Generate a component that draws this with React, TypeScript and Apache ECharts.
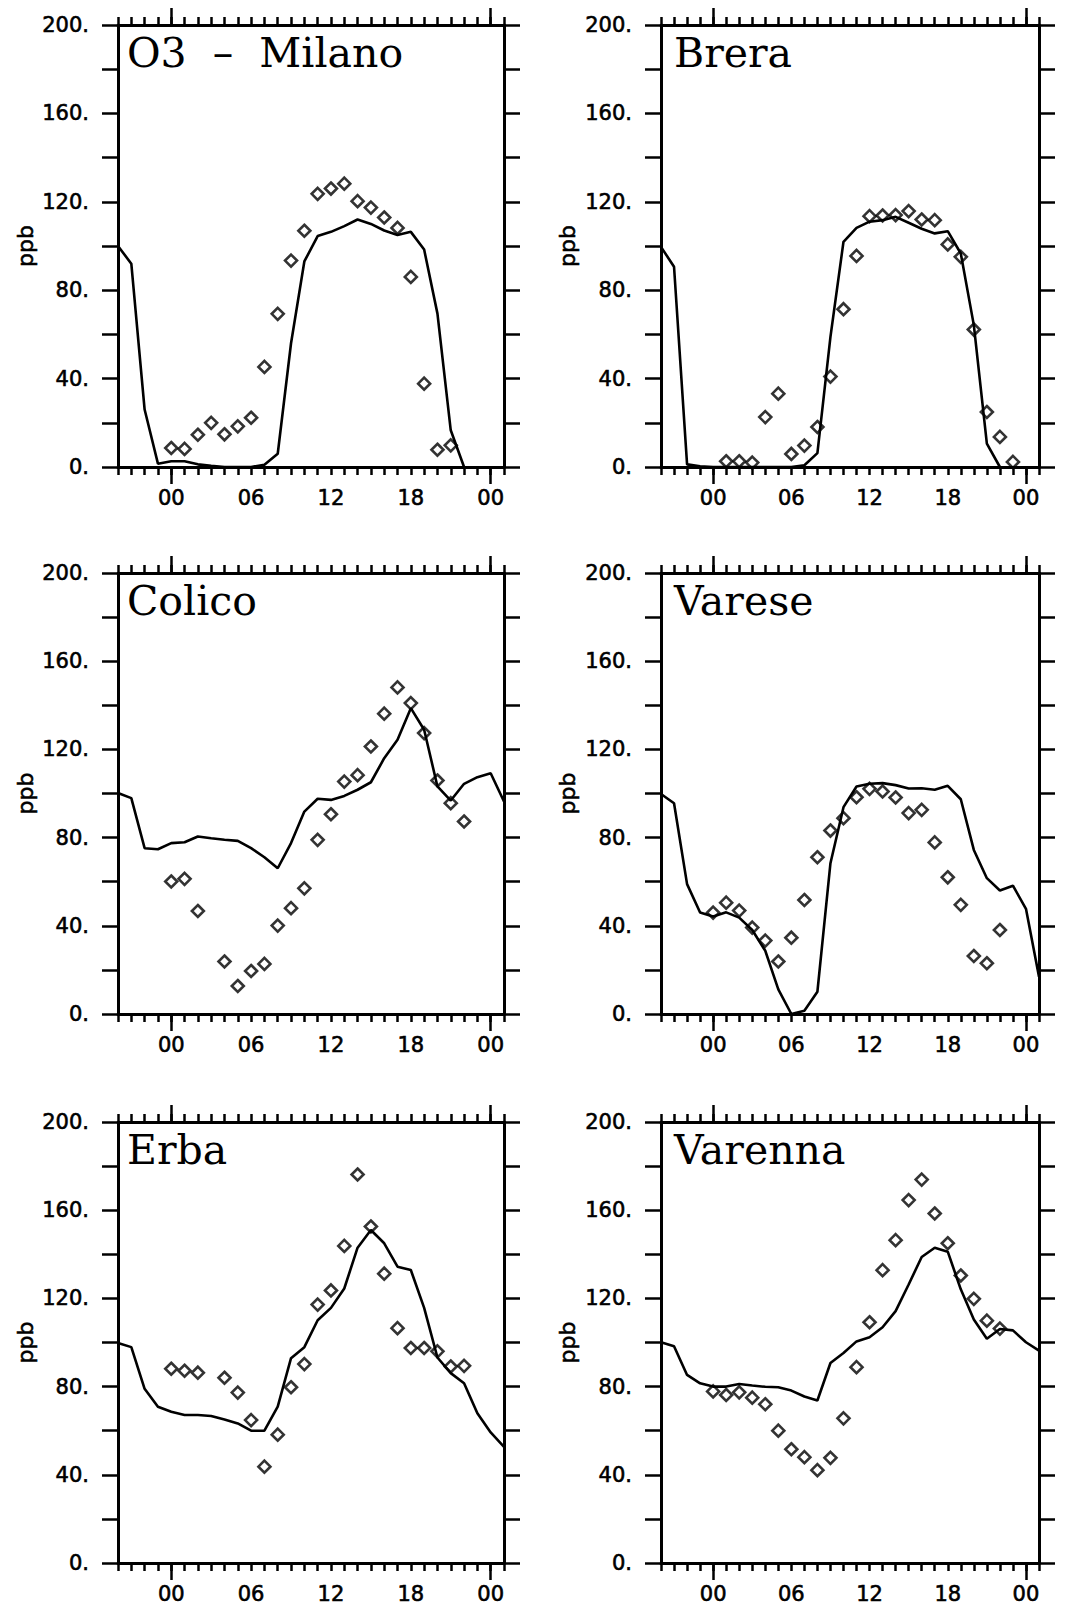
import { useEffect, useRef } from "react";
import * as echarts from "echarts";

// ---- data ----
const MODEL_START_HOUR = -4; // model values are hourly starting at -4
const OBS_START_HOUR = 0; // observations are hourly starting at 00

const titles = ["O3\u00a0\u00a0–\u00a0\u00a0Milano", "Brera", "Colico", "Varese", "Erba", "Varenna"];

const milanoModel = [100, 92, 26, 1.5, 2.6, 2.6, 1.2, 0.5, 0, 0, 0, 1, 6, 56, 93, 104.5, 106.4, 109, 112, 110, 107, 105, 106.4, 98.4, 69.4, 16.6, 0];
const milanoObs = [8.6, 8.2, 14.6, 20, 14.8, 18.4, 22.3, 45.3, 69.3, 93.4, 106.9, 123.6, 126, 128.2, 120.3, 117.4, 112.9, 108.2, 86, 37.7, 7.8, 9.8];

const breraModel = [99.6, 90.6, 1.2, 0.3, 0, 0, 0, 0, 0, 0, 0, 0.8, 6.3, 58.9, 101.9, 108.2, 111, 111.7, 113.2, 110.5, 107.8, 105.7, 106.7, 96.6, 64.2, 10.6, 0];
const breraObs = [null, 2.6, 2.6, 2, 22.6, 33.2, 5.9, 9.7, 18.1, 40.9, 71.4, 95.5, 113.5, 113.8, 114, 115.8, 112, 111.7, 100.7, 95.1, 62.2, 24.9, 13.6, 2.3];

const colicoModel = [100.2, 97.9, 75.2, 74.7, 77.5, 77.9, 80.5, 79.7, 79, 78.5, 75.2, 71.1, 66.1, 77.5, 91.8, 97.6, 97.1, 98.9, 101.7, 105.1, 116, 124.4, 138.7, 128.9, 103.2, 96.8, 104.4, 107.4, 109.2, 96.4];
const colicoObs = [60.1, 61.3, 46.7, null, 23.8, 12.7, 19.5, 22.7, 40.1, 48, 57, 79, 90.6, 105.4, 108.3, 121.3, 136.2, 148.1, 141, 127.4, 105.9, 95.6, 87.3];

const vareseModel = [99.8, 95.6, 58.9, 46, 44.2, 46.1, 43.7, 38.1, 28.7, 11.2, 0, 1.5, 10.1, 68.4, 93.8, 103.2, 104.4, 104.7, 103.8, 102.3, 102.4, 101.7, 103.5, 97.4, 74.4, 61.6, 56, 58.2, 47.7, 16.9];
const vareseObs = [46, 50.5, 46.9, 39.2, 33.3, 23.8, 34.6, 51.7, 71.1, 83.2, 88.8, 98.3, 102.1, 100.9, 98.2, 91.1, 92.6, 77.8, 62, 49.5, 26.3, 23, 38.1];

const erbaModel = [99.8, 97.9, 79, 70.9, 68.6, 67.1, 67.1, 66.7, 65.1, 63.3, 60, 60, 70.9, 92.9, 97.9, 110.1, 115.7, 124.5, 143, 151, 145, 134.4, 132.9, 115.7, 93.2, 86.1, 81.5, 67.9, 59.2, 52.7];
const erbaObs = [88.1, 87.2, 86.3, null, 84, 77.3, 64.8, 43.7, 58.2, 79.7, 90.2, 117.2, 123.6, 143.8, 176.2, 152.6, 131.2, 106.5, 97.5, 97.5, 96, 89.1, 89.4];

const varennaModel = [100.1, 98.3, 85.3, 81.5, 80, 80, 81.2, 80.5, 79.9, 79.7, 78.2, 75.5, 73.7, 90.7, 95.2, 100.5, 102.4, 106.9, 114.2, 126.3, 138.8, 143, 141.2, 124.1, 110.4, 101.7, 106.1, 105.5, 100.1, 96.3];
const varennaObs = [77.8, 76.2, 77.4, 75, 72, 60, 51.6, 48, 42.1, 47.7, 65.6, 88.8, 109.2, 132.8, 146.4, 164.6, 173.9, 158.5, 145, 130.4, 119.8, 109.9, 106.3];

const modelSeries = [milanoModel, breraModel, colicoModel, vareseModel, erbaModel, varennaModel];
const obsSeries = [milanoObs, breraObs, colicoObs, vareseObs, erbaObs, varennaObs];

const X_MIN = -4;
const X_MAX = 25;
const hourTicks = [-4, -3, -2, -1, 0, 1, 2, 3, 4, 5, 6, 7, 8, 9, 10, 11, 12, 13, 14, 15, 16, 17, 18, 19, 20, 21, 22, 23, 24, 25];
const dayTicks = [0, 24];
const xLabelHours = [0, 6, 12, 18, 24];
const xLabelTexts = ["00", "06", "12", "18", "00"];
const yLabelValues = [0, 40, 80, 120, 160, 200];
const yName = "ppb";

// ---- layout ----
const cols = [
  { left: 118, width: 386, nameX: 25, titleDx: 9 },
  { left: 661, width: 378, nameX: 567, titleDx: 13 },
];
const rows = [
  { top: 25, height: 442 },
  { top: 573, height: 441 },
  { top: 1122, height: 441 },
];

const BLACK = "#000";
const LABEL_FONT = "DejaVu Sans";
const labelText = {
  color: BLACK,
  fontFamily: LABEL_FONT,
  fontSize: 21,
  textBorderColor: BLACK,
  textBorderWidth: 0.6,
};

function buildOption() {
  const grid: any[] = [];
  const xAxis: any[] = [];
  const yAxis: any[] = [];
  const series: any[] = [];
  const graphic: any[] = [];

  titles.forEach((title, i) => {
    const col = cols[i % 2];
    const row = rows[Math.floor(i / 2)];
    grid.push({ left: col.left, top: row.top, width: col.width, height: row.height, containLabel: false });

    const axisLine = { show: true, onZero: false, lineStyle: { color: BLACK, width: 3 } };
    const noLine = { show: false, onZero: false };
    const tickStyle = { color: BLACK, width: 2.5 };
    const xBase = { gridIndex: i, type: "value", min: X_MIN, max: X_MAX, splitLine: { show: false } };

    // bottom hourly
    xAxis.push({
      ...xBase,
      position: "bottom",
      axisLine,
      axisTick: { show: true, inside: false, customValues: hourTicks, length: 8, lineStyle: tickStyle },
      axisLabel: {
        show: true,
        customValues: xLabelHours,
        formatter: (v: number) => xLabelTexts[xLabelHours.indexOf(v)] ?? "",
        ...labelText,
        margin: 20,
      },
    });
    // bottom day ticks
    xAxis.push({
      ...xBase,
      position: "bottom",
      axisLine: noLine,
      axisTick: { show: true, inside: false, customValues: dayTicks, length: 17, lineStyle: tickStyle },
      axisLabel: { show: false },
    });
    // top hourly
    xAxis.push({
      ...xBase,
      position: "top",
      axisLine,
      axisTick: { show: true, inside: false, customValues: hourTicks, length: 8, lineStyle: tickStyle },
      axisLabel: { show: false },
    });
    // top day ticks
    xAxis.push({
      ...xBase,
      position: "top",
      axisLine: noLine,
      axisTick: { show: true, inside: false, customValues: dayTicks, length: 17, lineStyle: tickStyle },
      axisLabel: { show: false },
    });

    const yBase = { gridIndex: i, type: "value", min: 0, max: 200, interval: 20, splitLine: { show: false } };
    yAxis.push({
      ...yBase,
      position: "left",
      axisLine,
      axisTick: { show: true, inside: false, length: 16, lineStyle: tickStyle },
      axisLabel: {
        show: true,
        customValues: yLabelValues,
        formatter: (v: number) => `${v}.`,
        ...labelText,
        margin: 29,
      },
    });
    yAxis.push({
      ...yBase,
      position: "right",
      axisLine,
      axisTick: { show: true, inside: false, length: 16, lineStyle: tickStyle },
      axisLabel: { show: false },
    });

    series.push({
      type: "line",
      xAxisIndex: 4 * i,
      yAxisIndex: 2 * i,
      data: modelSeries[i].map((v, k) => [MODEL_START_HOUR + k, v]),
      showSymbol: false,
      symbol: "none",
      lineStyle: { color: BLACK, width: 2.6 },
      z: 2,
    });
    const obsData: number[][] = [];
    obsSeries[i].forEach((v, k) => {
      if (v !== null) obsData.push([OBS_START_HOUR + k, v as number]);
    });
    series.push({
      type: "scatter",
      xAxisIndex: 4 * i,
      yAxisIndex: 2 * i,
      data: obsData,
      symbol: "diamond",
      symbolSize: 12,
      itemStyle: { color: "rgba(0,0,0,0)", borderColor: BLACK, borderWidth: 2.6 },
      z: 3,
    });

    graphic.push({
      type: "text",
      x: col.left + col.titleDx,
      y: row.top + 28,
      silent: true,
      style: {
        text: title,
        fontFamily: "DejaVu Serif",
        fontSize: 41,
        fill: BLACK,
        align: "left",
        verticalAlign: "middle",
      },
      z: 10,
    });
    graphic.push({
      type: "text",
      x: col.nameX,
      y: row.top + row.height / 2,
      rotation: Math.PI / 2,
      silent: true,
      style: {
        text: yName,
        fontFamily: LABEL_FONT,
        fontSize: 22,
        fill: BLACK,
        stroke: BLACK,
        lineWidth: 0.6,
        align: "center",
        verticalAlign: "middle",
      },
      z: 10,
    });
  });

  return {
    animation: false,
    backgroundColor: "#fff",
    grid,
    xAxis,
    yAxis,
    series,
    graphic,
  };
}

export default function App() {
  const ref = useRef<HTMLDivElement>(null);
  useEffect(() => {
    if (!ref.current) return;
    const chart = echarts.init(ref.current, undefined, { renderer: "svg" });
    chart.setOption(buildOption() as any);
    return () => chart.dispose();
  }, []);
  return (
    <div
      ref={ref}
      style={{ position: "absolute", left: 0, top: 0, width: 1066, height: 1606, background: "#fff" }}
    />
  );
}
